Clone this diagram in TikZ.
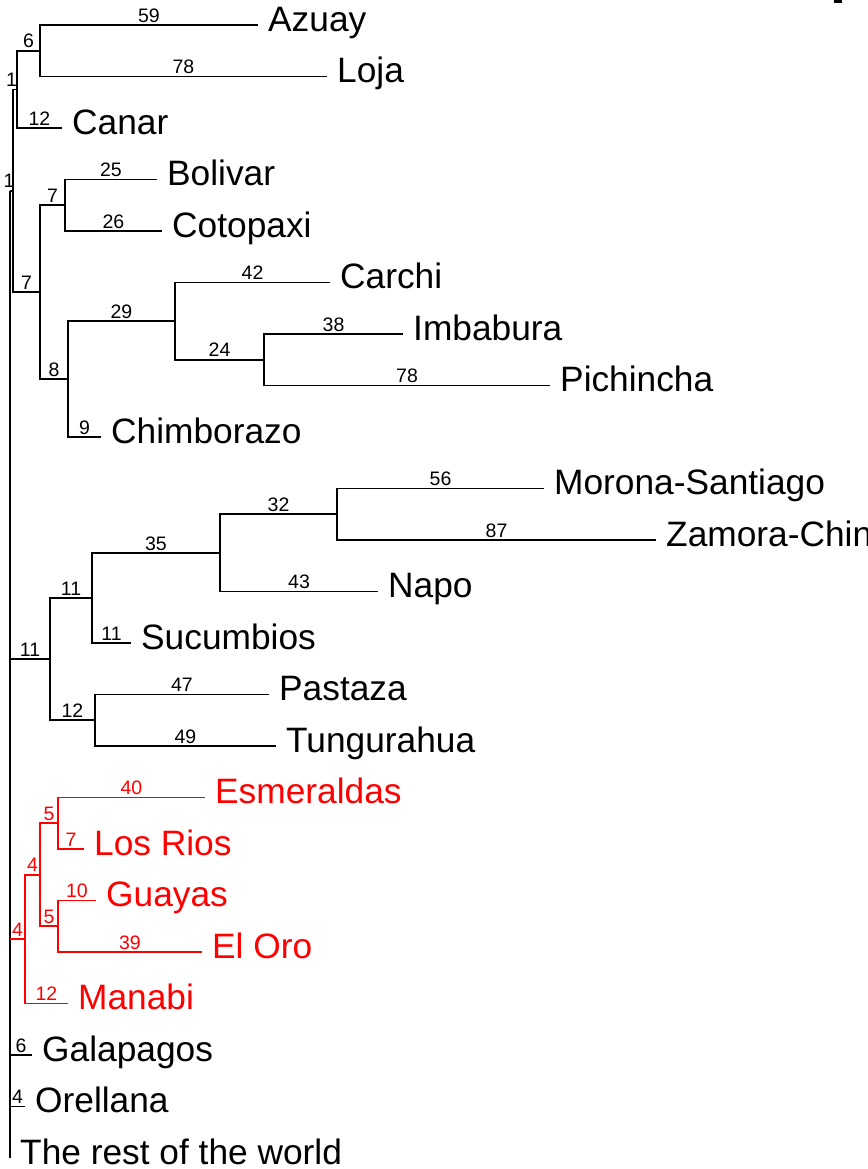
\documentclass[tikz,border=0pt]{standalone}
\usepackage{fontspec}
\setmainfont{Liberation Sans}
\newcommand\leaffont{\fontsize{35.3}{40}\selectfont}
\newcommand\numfont{\fontsize{19.5}{22}\selectfont}
\definecolor{tred}{RGB}{255,0,0}
\begin{document}
\begin{tikzpicture}[x=1pt,y=-1pt,
  edge/.style={line width=1.6pt},
  leaf/.style={anchor=base west, font=\leaffont, inner sep=0pt},
  bl/.style={pos=0.75, anchor=base, yshift=2.8pt, font=\numfont, inner sep=0pt},
  bls/.style={midway, anchor=base, yshift=2.8pt, font=\numfont, inner sep=0pt}]
\useasboundingbox (0,0) rectangle (867,1169);
% leaf tips
\coordinate (Azuay) at (258,25);
\coordinate (Loja) at (327,76.5);
\coordinate (Canar) at (62,128);
\coordinate (Bolivar) at (157,179.5);
\coordinate (Cotopaxi) at (162,231);
\coordinate (Carchi) at (330,282.5);
\coordinate (Imbabura) at (403,334);
\coordinate (Pichincha) at (550,385.5);
\coordinate (Chimborazo) at (101,437);
\coordinate (Morona) at (544,488.5);
\coordinate (Zamora) at (656,540);
\coordinate (Napo) at (378,591.5);
\coordinate (Sucumbios) at (131,643);
\coordinate (Pastaza) at (269,694.5);
\coordinate (Tungurahua) at (276,746);
\coordinate (Esmeraldas) at (205,797.5);
\coordinate (LosRios) at (84,849);
\coordinate (Guayas) at (96,900.5);
\coordinate (ElOro) at (202,952);
\coordinate (Manabi) at (68,1003.5);
\coordinate (Galapagos) at (32,1055);
\coordinate (Orellana) at (25,1106.5);
\coordinate (Rest) at (10,1158);
% internal nodes
\coordinate (nAL) at (40,50.75);
\coordinate (nALC) at (17,89.4);
\coordinate (nBC) at (65,205.25);
\coordinate (nIP) at (264,359.75);
\coordinate (nCIP) at (175,321.1);
\coordinate (nCh) at (68,379.2);
\coordinate (nBCh) at (40,292.2);
\coordinate (nP1) at (13,190.8);
\coordinate (root) at (10,190.8);
\coordinate (nMZ) at (337,514.25);
\coordinate (nMZN) at (220,552.9);
\coordinate (nMZNS) at (92,598);
\coordinate (nPT) at (95,720.25);
\coordinate (nBlack) at (50,659.1);
\coordinate (nES) at (58,823.25);
\coordinate (nGE) at (58,926.25);
\coordinate (nEG) at (40,874.75);
\coordinate (nRed) at (25,939.1);

% leaf labels
\foreach \n/\t in {Azuay/Azuay, Loja/Loja, Canar/Canar, Bolivar/Bolivar, Cotopaxi/Cotopaxi,
  Carchi/Carchi, Imbabura/Imbabura, Pichincha/Pichincha, Chimborazo/Chimborazo,
  Morona/Morona-Santiago, Zamora/Zamora-Chinchipe, Napo/Napo, Sucumbios/Sucumbios,
  Pastaza/Pastaza, Tungurahua/Tungurahua, Galapagos/Galapagos, Orellana/Orellana,
  Rest/The rest of the world}
  \node[leaf] (t\n) at ([xshift=10pt,yshift=-6.2pt]\n) {\t};
\foreach \n/\t in {Esmeraldas/Esmeraldas, LosRios/Los Rios, Guayas/Guayas, ElOro/El Oro, Manabi/Manabi}
  \node[leaf, text=tred] (t\n) at ([xshift=10pt,yshift=-6.2pt]\n) {\t};

% black edges
\draw[edge] (root) -- (Rest);
\draw[edge] (root) -- node[bls, xshift=-2.5pt]{1} (nP1);
\draw[edge] (nP1) |- node[bl, xshift=-3.5pt]{1} (nALC);
\draw[edge] (nP1) |- node[bl]{7} (nBCh);
\draw[edge] (nALC) |- node[bl]{6} (nAL);
\draw[edge] (nALC) |- node[bl]{12} (Canar);
\draw[edge] (nAL) |- node[bl]{59} (Azuay);
\draw[edge] (nAL) |- node[bl]{78} (Loja);
\draw[edge] (nBCh) |- node[bl]{7} (nBC);
\draw[edge] (nBCh) |- node[bl]{8} (nCh);
\draw[edge] (nBC) |- node[bl]{25} (Bolivar);
\draw[edge] (nBC) |- node[bl]{26} (Cotopaxi);
\draw[edge] (nCh) |- node[bl]{29} (nCIP);
\draw[edge] (nCh) |- node[bl]{9} (Chimborazo);
\draw[edge] (nCIP) |- node[bl]{42} (Carchi);
\draw[edge] (nCIP) |- node[bl]{24} (nIP);
\draw[edge] (nIP) |- node[bl]{38} (Imbabura);
\draw[edge] (nIP) |- node[bl]{78} (Pichincha);
\draw[edge] (nBlack -| root) -- node[bls]{11} (nBlack);
\draw[edge] (nBlack) |- node[bl]{11} (nMZNS);
\draw[edge] (nBlack) |- node[bl]{12} (nPT);
\draw[edge] (nMZNS) |- node[bl]{35} (nMZN);
\draw[edge] (nMZNS) |- node[bl]{11} (Sucumbios);
\draw[edge] (nMZN) |- node[bl]{32} (nMZ);
\draw[edge] (nMZN) |- node[bl]{43} (Napo);
\draw[edge] (nMZ) |- node[bl]{56} (Morona);
\draw[edge] (nMZ) |- node[bl]{87} (Zamora);
\draw[edge] (nPT) |- node[bl]{47} (Pastaza);
\draw[edge] (nPT) |- node[bl]{49} (Tungurahua);
\draw[edge] (Galapagos -| root) -- node[bls]{6} (Galapagos);
\draw[edge] (Orellana -| root) -- node[bls]{4} (Orellana);
% red clade
\begin{scope}[tred]
\draw[edge] (nRed -| root) -- node[bls]{4} (nRed);
\draw[edge] (nRed) |- node[bl]{4} (nEG);
\draw[edge] (nRed) |- node[bl]{12} (Manabi);
\draw[edge] (nEG) |- node[bl]{5} (nES);
\draw[edge] (nEG) |- node[bl]{5} (nGE);
\draw[edge] (nES) |- node[bl]{40} (Esmeraldas);
\draw[edge] (nES) |- node[bl]{7} (LosRios);
\draw[edge] (nGE) |- node[bl]{10} (Guayas);
\draw[edge] (nGE) |- node[bl]{39} (ElOro);
\end{scope}
% cut-off mark at the top right
\fill (834,0) rectangle (842,2.7);
\end{tikzpicture}
\end{document}
